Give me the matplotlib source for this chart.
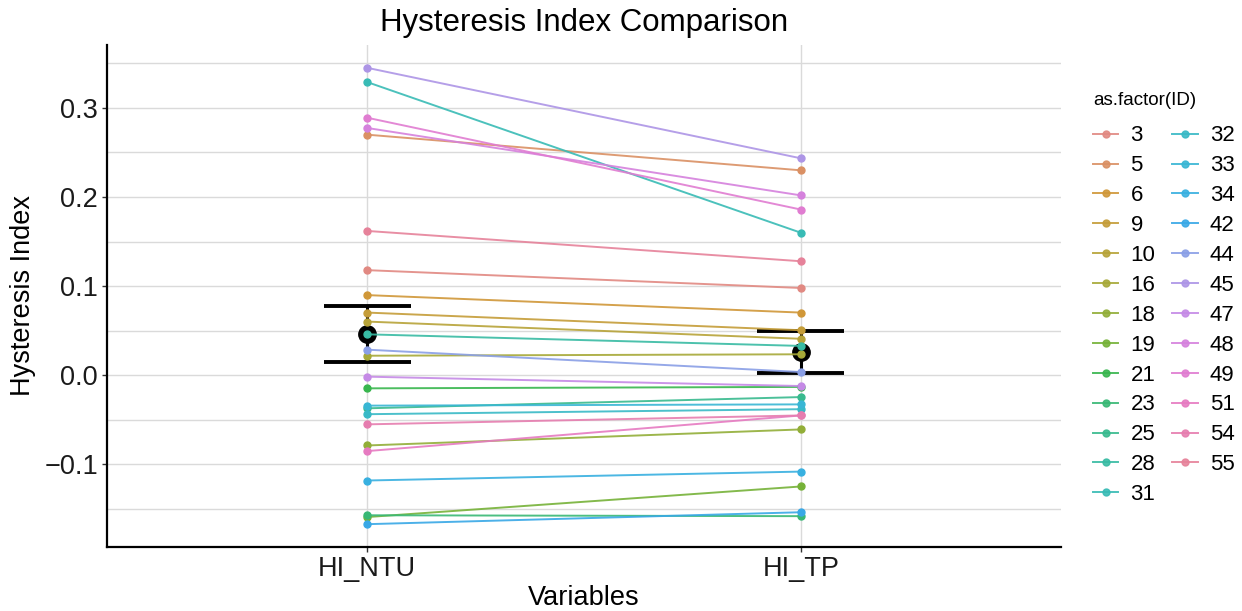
import numpy as np
import matplotlib
matplotlib.use("Agg")
import matplotlib.pyplot as plt
from matplotlib.lines import Line2D

plt.rcParams['font.family'] = ['Liberation Sans', 'DejaVu Sans']

# ---- data ----
ids = [3, 5, 6, 9, 10, 16, 18, 19, 21, 23, 25, 28, 31,
       32, 33, 34, 42, 44, 45, 47, 48, 49, 51, 54, 55]
hi_ntu = [0.118, 0.270, 0.090, 0.0704, 0.0603, 0.022, -0.0787, -0.159, -0.0146,
          -0.157, -0.037, 0.046, 0.329, -0.0436, -0.034, -0.118, -0.167, 0.0288,
          0.345, -0.0015, 0.2775, 0.289, -0.085, -0.055, 0.162]
hi_tp = [0.098, 0.230, 0.0704, 0.0506, 0.041, 0.0236, -0.0607, -0.1247, -0.013,
         -0.158, -0.0244, 0.033, 0.160, -0.038, -0.0326, -0.108, -0.1536, 0.0037,
         0.2435, -0.012, 0.2019, 0.186, -0.045, -0.045, 0.128]
variables = ["HI_NTU", "HI_TP"]
y_ticks = [-0.1, 0.0, 0.1, 0.2, 0.3]
y_tick_labels = ["\u22120.1", "0.0", "0.1", "0.2", "0.3"]
y_minor = [-0.15, -0.05, 0.05, 0.15, 0.25, 0.35]


# ggplot2 hue palette (polar LUV, c=100, l=65), slightly muted
def hcl_to_rgb(h, c=100.0, l=65.0, mute=0.32, grey=0.69):
    hr = np.deg2rad(h)
    u = c * np.cos(hr)
    v = c * np.sin(hr)
    Xn, Yn, Zn = 95.047, 100.0, 108.883
    Y = Yn * ((l + 16) / 116) ** 3 if l > 8 else Yn * l / 903.3
    un = 4 * Xn / (Xn + 15 * Yn + 3 * Zn)
    vn = 9 * Yn / (Xn + 15 * Yn + 3 * Zn)
    up = u / (13 * l) + un
    vp = v / (13 * l) + vn
    X = 9.0 * Y * up / (4 * vp)
    Z = -X / 3 - 5 * Y + 3 * Y / vp
    X, Y, Z = X / 100, Y / 100, Z / 100
    r = 3.240479 * X - 1.537150 * Y - 0.498535 * Z
    g = -0.969256 * X + 1.875992 * Y + 0.041556 * Z
    b = 0.055648 * X - 0.204043 * Y + 1.057311 * Z

    def gam(t):
        t = min(max(t, 0.0), 1.0)
        return 12.92 * t if t <= 0.0031308 else 1.055 * t ** (1 / 2.4) - 0.055
    rgb = np.array([gam(r), gam(g), gam(b)])
    return tuple((1 - mute) * rgb + mute * grey)


n = len(ids)
hues = [15 + i * 360.0 / n for i in range(n)]
colors = [hcl_to_rgb(h) for h in hues]

fig = plt.figure(figsize=(12.42, 6.11), dpi=100)
ax = fig.add_axes([107 / 1242, 1 - 547 / 611, (1061 - 107) / 1242, (547 - 45) / 611])

xpos = np.arange(1, len(variables) + 1)

# grid
for yv in y_minor + y_ticks:
    ax.axhline(yv, color='#DADADA', lw=1.0, zorder=0)
for xv in xpos:
    ax.axvline(xv, color='#DADADA', lw=1.0, zorder=0)

# summary: mean +/- se
data = np.array([hi_ntu, hi_tp])
means = data.mean(axis=1)
ses = data.std(axis=1, ddof=1) / np.sqrt(data.shape[1])
for xv, m, s in zip(xpos, means, ses):
    ax.vlines(xv, m - s, m + s, color='black', lw=2.2, zorder=2)
    ax.hlines([m - s, m + s], xv - 0.1, xv + 0.1, color='black', lw=2.8, zorder=2)
ax.plot(xpos, means, 'o', color='black', ms=12.5, zorder=2.5, ls='none')

# id lines
for i, idv in enumerate(ids):
    ax.plot(xpos, [hi_ntu[i], hi_tp[i]], '-', color=colors[i], lw=1.4, alpha=0.9, zorder=3)
    ax.plot(xpos, [hi_ntu[i], hi_tp[i]], 'o', color=colors[i], ms=5, zorder=4)

ax.set_xlim(0.4, 2.6)
ymin = min(min(hi_ntu), min(hi_tp))
ymax = max(max(hi_ntu), max(hi_tp))
rng = ymax - ymin
ax.set_ylim(ymin - 0.05 * rng, ymax + 0.05 * rng)

ax.set_xticks(xpos)
ax.set_xticklabels(variables, fontsize=19.5, color='#1a1a1a')
ax.set_yticks(y_ticks)
ax.set_yticklabels(y_tick_labels, fontsize=19.5, color='#1a1a1a')
ax.tick_params(axis='both', length=3.5, width=1.0, color='#333333', pad=3)

for sp in ['top', 'right']:
    ax.spines[sp].set_visible(False)
for sp in ['left', 'bottom']:
    ax.spines[sp].set_linewidth(1.6)
    ax.spines[sp].set_color('black')
ax.set_facecolor('white')

ax.set_xlabel("Variables", fontsize=19.5, labelpad=2)
ax.set_ylabel("Hysteresis Index", fontsize=19.5, labelpad=6)
ax.set_title("Hysteresis Index Comparison", fontsize=22.5, pad=10)

handles = [Line2D([0], [0], color=colors[i], lw=1.4, alpha=0.9, marker='o', ms=5) for i in range(n)]
leg = fig.legend(handles, [str(v) for v in ids], ncol=2, loc='upper left',
                 bbox_to_anchor=(1075 / 1242, 1 - 74 / 611), frameon=False,
                 title="as.factor(ID)", title_fontsize=13.5, fontsize=16,
                 handlelength=1.15, handletextpad=0.55, columnspacing=0.75,
                 labelspacing=0.40, alignment='left', borderpad=0.3)
leg._legend_box.sep = 12

fig.savefig("out.png", dpi=100, facecolor='white')
